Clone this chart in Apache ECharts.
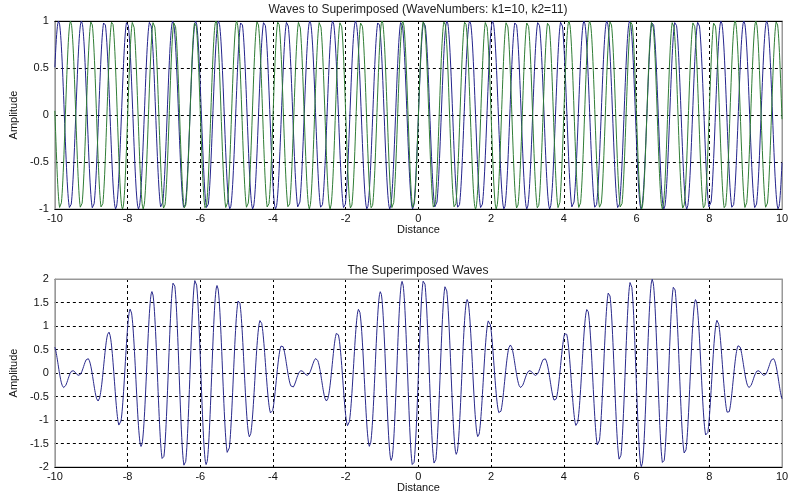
<!DOCTYPE html>
<html>
<head>
<meta charset="utf-8">
<script src="https://cdn.jsdelivr.net/npm/echarts@6/dist/echarts.min.js"></script>
<style>
html,body{margin:0;padding:0;background:#fff;}
#chart{width:800px;height:500px;}
</style>
</head>
<body>
<div id="chart"></div>
<script>
// Data as stated by the chart: two sine waves with wave numbers k1, k2 over the distance range
const waveNumbers = [10, 11];
const distanceRange = [-10, 10];
const sampleStep = [0.01];
const topTicks = [-1, -0.5, 0, 0.5, 1];
const bottomTicks = [-2, -1.5, -1, -0.5, 0, 0.5, 1, 1.5, 2];
const xTicks = [-10, -8, -6, -4, -2, 0, 2, 4, 6, 8, 10];
const titles = ['Waves to Superimposed (WaveNumbers: k1=10, k2=11)', 'The Superimposed Waves'];

const xs = [];
const n = Math.round((distanceRange[1] - distanceRange[0]) / sampleStep[0]);
for (let i = 0; i <= n; i++) xs.push(distanceRange[0] + i * sampleStep[0]);
const wave1 = xs.map(x => [x, Math.sin(waveNumbers[0] * x)]);
const wave2 = xs.map(x => [x, Math.sin(waveNumbers[1] * x)]);
const waveSum = xs.map((x, i) => [x, wave1[i][1] + wave2[i][1]]);

const font = 'Liberation Sans, Arial, sans-serif';
const gridLine = {show: true, lineStyle: {color: '#000', width: 1, type: [3, 3]}};

function xAxisFor(gi) {
  return {
    type: 'value', gridIndex: gi, min: xTicks[0], max: xTicks[xTicks.length - 1], interval: 2,
    name: 'Distance', nameLocation: 'middle', nameGap: 14,
    nameTextStyle: {fontFamily: font, fontSize: 11, color: '#111'},
    axisLine: {show: true, onZero: false, lineStyle: {color: '#000', width: 1}},
    axisTick: {show: false},
    axisLabel: {fontFamily: font, fontSize: 11, color: '#111', margin: 4},
    splitLine: gridLine
  };
}
function xTopFor(gi) {
  return {
    type: 'value', gridIndex: gi, position: 'top', min: xTicks[0], max: xTicks[xTicks.length - 1],
    axisLine: {show: true, onZero: false, lineStyle: {color: gi === 0 ? '#000' : '#999', width: 1}},
    axisTick: {show: false}, axisLabel: {show: false}, splitLine: {show: false}
  };
}
function yAxisFor(gi, ticks) {
  return {
    type: 'value', gridIndex: gi, min: ticks[0], max: ticks[ticks.length - 1], interval: 0.5,
    name: 'Amplitude', nameLocation: 'middle', nameGap: 34, nameRotate: 90,
    nameTextStyle: {fontFamily: font, fontSize: 11, color: '#111'},
    axisLine: {show: true, onZero: false, lineStyle: {color: '#999', width: 1}},
    axisTick: {show: false},
    axisLabel: {fontFamily: font, fontSize: 11, color: '#111', margin: 6},
    splitLine: gridLine
  };
}
function yRightFor(gi, ticks) {
  return {
    type: 'value', gridIndex: gi, position: 'right', min: ticks[0], max: ticks[ticks.length - 1],
    axisLine: {show: true, onZero: false, lineStyle: {color: '#999', width: 1}},
    axisTick: {show: false}, axisLabel: {show: false}, splitLine: {show: false}
  };
}

const chart = echarts.init(document.getElementById('chart'), null, {renderer: 'canvas'});
chart.setOption({
  animation: false,
  backgroundColor: '#fff',
  title: [
    {text: titles[0], left: 418, textAlign: 'center', top: 4, padding: 0,
     textStyle: {fontFamily: font, fontSize: 12, fontWeight: 'normal', color: '#222'}},
    {text: titles[1], left: 418, textAlign: 'center', top: 265, padding: 0,
     textStyle: {fontFamily: font, fontSize: 12, fontWeight: 'normal', color: '#222'}}
  ],
  grid: [
    {left: 53, right: 18, top: 21, height: 188, show: true, borderColor: '#999', borderWidth: 1},
    {left: 53, right: 18, top: 279, height: 188, show: true, borderColor: '#999', borderWidth: 1}
  ],
  xAxis: [xAxisFor(0), xAxisFor(1), xTopFor(0), xTopFor(1)],
  yAxis: [yAxisFor(0, topTicks), yAxisFor(1, bottomTicks), yRightFor(0, topTicks), yRightFor(1, bottomTicks)],
  series: [
    {type: 'line', xAxisIndex: 0, yAxisIndex: 0, data: wave1, showSymbol: false,
     lineStyle: {color: '#23238c', width: 1}},
    {type: 'line', xAxisIndex: 0, yAxisIndex: 0, data: wave2, showSymbol: false,
     lineStyle: {color: '#2f7d35', width: 1}},
    {type: 'line', xAxisIndex: 1, yAxisIndex: 1, data: waveSum, showSymbol: false,
     lineStyle: {color: '#2a2a8c', width: 1}}
  ]
});
</script>
</body>
</html>
